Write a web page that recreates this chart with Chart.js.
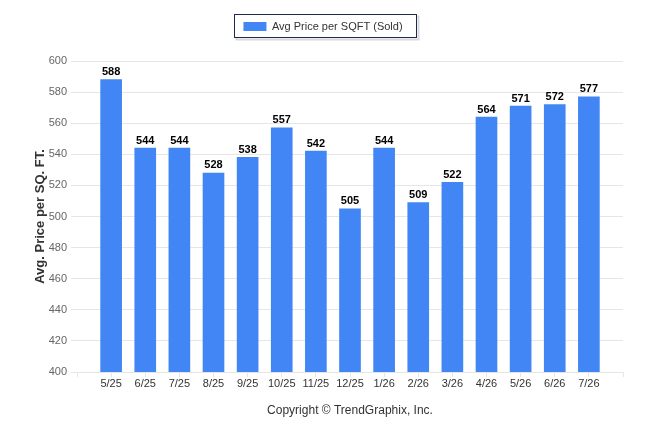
<!DOCTYPE html>
<html>
<head>
<meta charset="utf-8">
<script src="https://cdn.jsdelivr.net/npm/chart.js@4/dist/chart.umd.min.js"></script>
<style>
  body { margin: 0; background: #fff; }
  #wrap { width: 646px; height: 434px; }
</style>
</head>
<body>
<div id="wrap"><canvas id="chartPrecio" width="646" height="434"></canvas></div>
<script>
// datos
const meses = ['5/25', '6/25', '7/25', '8/25', '9/25', '10/25', '11/25', '12/25', '1/26', '2/26', '3/26', '4/26', '5/26', '6/26', '7/26']
const precios = [588, 544, 544, 528, 538, 557, 542, 505, 544, 509, 522, 564, 571, 572, 577]
const ticksY = [400, 420, 440, 460, 480, 500, 520, 540, 560, 580, 600]

const azul = '#4285f4'
const fuente = 'Liberation Sans'

// etiquetas de valor encima de cada barra
const etiquetasBarras = {
    id: 'etiquetasBarras',
    afterDatasetsDraw(chart) {
        const ctx = chart.ctx
        const meta = chart.getDatasetMeta(0)
        ctx.save()
        ctx.font = `bold 11px ${fuente}`
        ctx.fillStyle = '#000'
        ctx.textAlign = 'center'
        ctx.textBaseline = 'bottom'
        meta.data.forEach((barra, i) => {
            ctx.fillText(precios[i], barra.x, barra.y - 2)
        })
        ctx.restore()
    }
}

// marco con sombra alrededor de la leyenda + espacio extra debajo
const marcoLeyenda = {
    id: 'marcoLeyenda',
    afterInit(chart) {
        const l = chart.legend
        const fitOriginal = l.fit.bind(l)
        l.fit = function () {
            fitOriginal()
            this.height += 19
        }
    },
    afterLayout(chart) {
        // centrar la leyenda en todo el ancho del lienzo
        const l = chart.legend
        l.left = 0
        l.right = chart.width
        l.width = chart.width
    },
    afterDraw(chart) {
        const caja = chart.legend.legendHitBoxes[0]
        if (!caja) return
        const ctx = chart.ctx
        const x = Math.round(caja.left - 9) + 0.5
        const y = Math.round(caja.top - 7) + 0.5
        const w = Math.round(caja.width + 23)
        const h = Math.round(caja.height + 12)
        ctx.save()
        ctx.strokeStyle = 'rgba(0,0,0,0.15)'
        ctx.lineWidth = 2
        ctx.strokeRect(x + 2, y + 2, w, h)
        ctx.fillStyle = '#fff'
        ctx.fillRect(x, y, w, h)
        ctx.restore()
        chart.legend.draw()
        ctx.save()
        ctx.strokeStyle = '#1c2b4a'
        ctx.lineWidth = 1
        ctx.strokeRect(x, y, w, h)
        ctx.restore()
    }
}

const context = document.getElementById('chartPrecio').getContext('2d')

const chartPrecio = new Chart(context, {
    type: 'bar',
    data: {
        datasets: [
            {
                label: 'Avg Price per SQFT (Sold)',
                data: precios.map((p, i) => ({ x: i, y: p })),
                backgroundColor: azul,
                borderWidth: 0,
                barThickness: 21
            }
        ]
    },
    options: {
        responsive: false,
        animation: false,
        layout: { padding: { left: 29, right: 0, top: 13, bottom: 12 } },
        plugins: {
            legend: {
                position: 'top',
                labels: {
                    boxWidth: 23,
                    boxHeight: 9,
                    padding: 8,
                    color: '#333',
                    font: { family: fuente, size: 11 }
                },
                onClick: null
            },
            tooltip: { enabled: false }
        },
        scales: {
            x: {
                type: 'linear',
                offset: false,
                min: -1,
                max: meses.length,
                afterBuildTicks(scale) {
                    const t = []
                    for (let v = -1; v <= meses.length; v++) t.push({ value: v })
                    scale.ticks = t
                },
                afterFit(scale) { scale.height = 50 },
                grid: {
                    offset: false,
                    drawOnChartArea: false,
                    color: '#e6e6e6',
                    tickLength: 5
                },
                border: { color: '#e6e6e6' },
                ticks: {
                    autoSkip: false,
                    maxRotation: 0,
                    padding: 0,
                    color: '#333',
                    font: { family: fuente, size: 11 },
                    callback: (v) => meses[v] || ''
                },
                title: {
                    display: true,
                    text: 'Copyright © TrendGraphix, Inc.',
                    color: '#333',
                    font: { family: fuente, size: 12 },
                    padding: { top: 6 }
                }
            },
            y: {
                min: 400,
                max: 600,
                afterBuildTicks(scale) {
                    scale.ticks = ticksY.map(v => ({ value: v }))
                },
                afterFit(scale) { scale.width = 48 },
                grid: { color: '#e6e6e6', tickLength: 6 },
                border: { display: false },
                ticks: {
                    padding: 4,
                    color: '#666',
                    font: { family: fuente, size: 11 }
                },
                title: {
                    display: true,
                    text: 'Avg. Price per SQ. FT.',
                    color: '#333',
                    font: { family: fuente, size: 13, weight: 'bold' },
                    padding: { bottom: 2 }
                }
            },
            // eje vacio a la derecha solo para dejar margen
            derecha: {
                position: 'right',
                afterFit(scale) { scale.width = 23 },
                grid: { display: false },
                border: { display: false },
                ticks: { display: false }
            }
        }
    },
    plugins: [etiquetasBarras, marcoLeyenda]
})
</script>
</body>
</html>
